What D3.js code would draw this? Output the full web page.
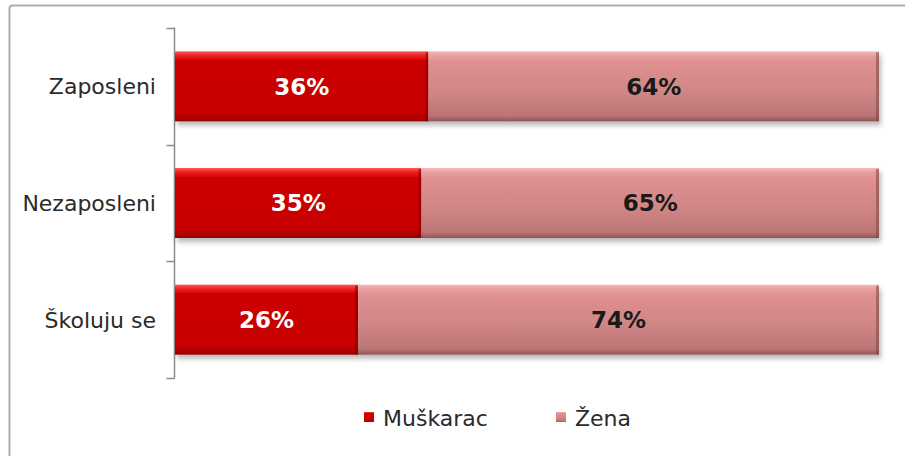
<!DOCTYPE html>
<html><head><meta charset="utf-8">
<script src="https://cdn.jsdelivr.net/npm/d3@7"></script>
<style>
html,body{margin:0;padding:0;background:#fff;}
svg{display:block;font-family:"DejaVu Sans",Verdana,sans-serif;}
</style></head>
<body><svg id="c" width="905" height="456"></svg>
<script>
const categories = ["Zaposleni", "Nezaposleni", "Školuju se"];
const seriesNames = ["Muškarac", "Žena"];
const muskarac = [36, 35, 26];
const zena = [64, 65, 74];

const svg = d3.select("#c");
const defs = svg.append("defs");

function grad(id, stops) {
  const g = defs.append("linearGradient").attr("id", id).attr("x1",0).attr("y1",0).attr("x2",0).attr("y2",1);
  stops.forEach(s => g.append("stop").attr("offset", s[0]).attr("stop-color", s[1]));
}
grad("gM", [[0,"#ff5a5a"],[0.06,"#ee2020"],[0.14,"#cc0000"],[0.85,"#c80000"],[0.95,"#b00000"],[1,"#900000"]]);
grad("gZ", [[0,"#f6b8b8"],[0.06,"#e8a0a0"],[0.15,"#e09090"],[0.6,"#d08585"],[0.92,"#bb7474"],[1,"#8f5555"]]);
const sh = defs.append("filter").attr("id","sh").attr("x","-5%").attr("y","-20%").attr("width","115%").attr("height","160%");
sh.append("feDropShadow").attr("dx",2).attr("dy",4).attr("stdDeviation",2.5).attr("flood-color","#000").attr("flood-opacity",0.28);

// outer border (extends beyond window)
svg.append("rect").attr("x",9.5).attr("y",5.5).attr("width",1000).attr("height",1000)
  .attr("rx",3).attr("fill","none").attr("stroke","#adadad").attr("stroke-width",2);

const x = d3.scaleLinear().domain([0,100]).range([175,879]);
const y = d3.scaleBand().domain(categories).range([28,378]).paddingInner(0.4).paddingOuter(0.2);

// axis
const axisG = svg.append("g").attr("transform","translate(174.5,0)");
axisG.append("line").attr("y1",27.5).attr("y2",378.5).attr("stroke","#8c8c8c").attr("stroke-width",1.5);
const tickPos = d3.range(categories.length+1).map(i => 28 + i*(350/categories.length));
axisG.selectAll(".t").data(tickPos).join("line")
  .attr("x1",-8).attr("x2",0).attr("y1",d=>Math.round(d)+0.5).attr("y2",d=>Math.round(d)+0.5)
  .attr("stroke","#8c8c8c").attr("stroke-width",1.5);
svg.selectAll(".cat").data(categories).join("text")
  .attr("x",156).attr("y",d=>y(d)+y.bandwidth()/2).attr("dy","0.36em")
  .attr("text-anchor","end").attr("font-size",22).attr("fill","#2a2a2a").text(d=>d);

const rows = categories.map((c,i)=>({c, m:muskarac[i], z:zena[i]}));
const g = svg.append("g");
rows.forEach(r => {
  const y0 = y(r.c), h = y.bandwidth();
  const segs = [{s:0,e:r.m,fill:"url(#gM)",edge:"#8a0000",lbl:r.m,col:"#fff"},
                {s:r.m,e:100,fill:"url(#gZ)",edge:"#7a4545",lbl:r.z,col:"#1a1a1a"}];
  segs.forEach(sg => {
    const x0 = x(sg.s), x1 = x(sg.e);
    const gg = g.append("g");
    gg.append("rect").attr("x",x0).attr("y",y0).attr("width",x1-x0).attr("height",h)
      .attr("fill",sg.fill).attr("filter","url(#sh)");
    gg.append("rect").attr("x",x1-3).attr("y",y0+1).attr("width",3).attr("height",h-1)
      .attr("fill",sg.edge).attr("opacity",0.55);
    gg.append("text").attr("x",(x0+x1)/2).attr("y",y0+h/2).attr("dy","0.36em")
      .attr("text-anchor","middle").attr("font-size",23).attr("font-weight","bold")
      .attr("fill",sg.col).text(sg.lbl+"%");
  });
});

// legend
const leg = [{n:seriesNames[0],fill:"url(#gM)",x:364},{n:seriesNames[1],fill:"url(#gZ)",x:556}];
leg.forEach(l => {
  svg.append("rect").attr("x",l.x).attr("y",412).attr("width",10).attr("height",10).attr("fill",l.fill);
  svg.append("text").attr("x",l.x+19).attr("y",418).attr("dy","0.36em")
    .attr("font-size",22).attr("fill","#2a2a2a").text(l.n);
});
</script></body></html>
